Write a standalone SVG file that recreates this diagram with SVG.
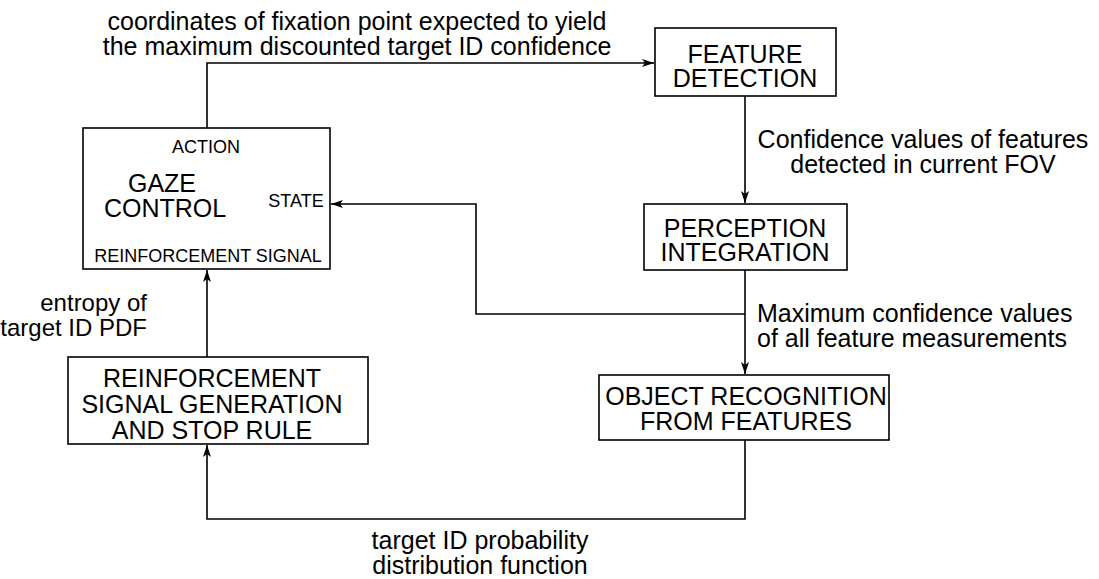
<svg xmlns="http://www.w3.org/2000/svg" width="1099" height="579" viewBox="0 0 1099 579">
<style>
  .box { fill: #fff; stroke: #000; stroke-width: 1.6; }
  .t { font-family: "Liberation Sans", Arial, sans-serif; font-size: 25px; fill: #000; }
  .s { font-family: "Liberation Sans", Arial, sans-serif; font-size: 18px; fill: #000; }
  .c { text-anchor: middle; }
  .e { text-anchor: end; }
  .conn { fill: none; stroke: #000; stroke-width: 1.6; }
</style>
<defs>
  <marker id="arr" viewBox="0 0 12 8" refX="12" refY="4" markerWidth="12" markerHeight="8" markerUnits="userSpaceOnUse" orient="auto">
    <path d="M0,0 L12,4 L0,8 L3,4 Z" fill="#000"/>
  </marker>
</defs>
<rect width="1099" height="579" fill="#fff"/>
<g id="connectors">
  <path class="conn" d="M207,128 V63 H654" marker-end="url(#arr)"/>
  <path class="conn" d="M745,96 V203" marker-end="url(#arr)"/>
  <path class="conn" d="M745,270 V374" marker-end="url(#arr)"/>
  <path class="conn" d="M745,314 H476 V204 H331" marker-end="url(#arr)"/>
  <path class="conn" d="M745,440 V519 H207 V445" marker-end="url(#arr)"/>
  <path class="conn" d="M207,357 V270" marker-end="url(#arr)"/>
  <text class="t c" x="357" y="30">coordinates of fixation point expected to yield</text>
  <text class="t c" x="357" y="55">the maximum discounted target ID confidence</text>
  <text class="t c" x="923" y="148">Confidence values of features</text>
  <text class="t c" x="923" y="173">detected in current FOV</text>
  <text class="t" x="757" y="322">Maximum confidence values</text>
  <text class="t" x="757" y="347">of all feature measurements</text>
  <text class="t e" x="147" y="311" style="font-size:24px">entropy of</text>
  <text class="t e" x="147" y="336" style="font-size:24px">target ID PDF</text>
  <text class="t c" x="480" y="549">target ID probability</text>
  <text class="t c" x="480" y="574">distribution function</text>
</g>
<g id="feature-detection">
  <rect class="box" x="655" y="28" width="181" height="68"/>
  <text class="t c" x="745" y="63">FEATURE</text>
  <text class="t c" x="745" y="87">DETECTION</text>
</g>
<g id="perception-integration">
  <rect class="box" x="644" y="204" width="203" height="66"/>
  <text class="t c" x="745" y="237">PERCEPTION</text>
  <text class="t c" x="745" y="261">INTEGRATION</text>
</g>
<g id="object-recognition">
  <rect class="box" x="599" y="375" width="290" height="65"/>
  <text class="t c" x="746" y="405">OBJECT RECOGNITION</text>
  <text class="t c" x="746" y="430">FROM FEATURES</text>
</g>
<g id="reinforcement-generation">
  <rect class="box" x="68" y="357" width="300" height="87"/>
  <text class="t c" x="212" y="387">REINFORCEMENT</text>
  <text class="t c" x="212" y="413">SIGNAL GENERATION</text>
  <text class="t c" x="212" y="439">AND STOP RULE</text>
</g>
<g id="gaze-control">
  <rect class="box" x="83" y="128" width="247" height="141"/>
  <text class="s c" x="206" y="153">ACTION</text>
  <text class="t c" x="162" y="192">GAZE</text>
  <text class="t c" x="165" y="217">CONTROL</text>
  <text class="s c" x="296" y="207">STATE</text>
  <text class="s c" x="208" y="262">REINFORCEMENT SIGNAL</text>
</g>
</svg>
